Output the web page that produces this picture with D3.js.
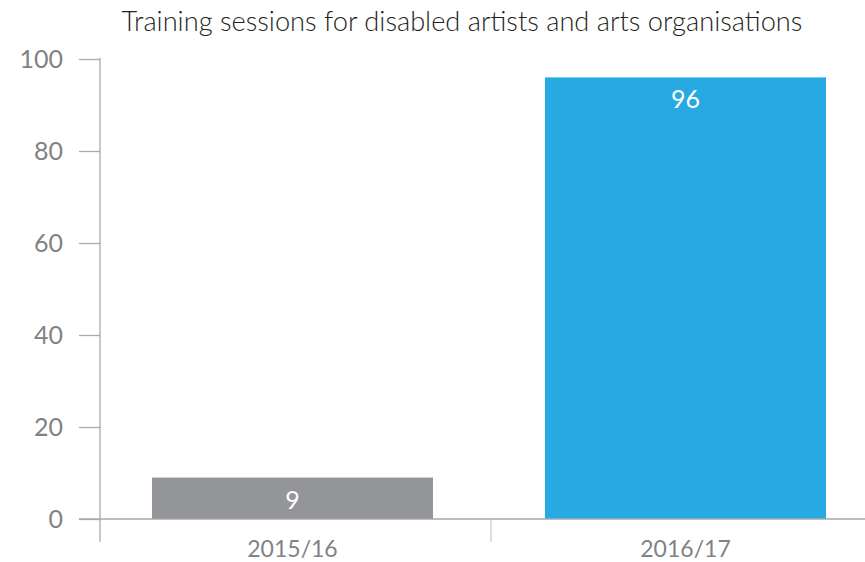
<!DOCTYPE html>
<html>
<head>
<meta charset="utf-8">
<script src="https://cdn.jsdelivr.net/npm/d3@7"></script>
<style>
  html, body { margin: 0; padding: 0; background: #fff; }
  svg { display: block; font-family: Lato, "Open Sans", sans-serif; font-weight: 400; }
</style>
</head>
<body>
<svg id="chart" width="865" height="562"></svg>
<script>
const title = "Training sessions for disabled artists and arts organisations";
const categories = ["2015/16", "2016/17"];
const values = [9, 96];
const barColors = ["#939598", "#27aae1"];
const yTicks = [0, 20, 40, 60, 80, 100];

const svg = d3.select("#chart");
const W = 865, H = 562;
const mLeft = 100, mBottom = 519, mTop = 59;

const x = d3.scaleBand().domain(categories).range([mLeft, 878]).paddingInner(0.285).paddingOuter(0.1323);
const y = d3.scaleLinear().domain([0, 100]).range([mBottom, mTop]);

// Title
const t = svg.append("text")
  .attr("x", 462).attr("y", 31)
  .attr("text-anchor", "middle")
  .attr("fill", "#231f20")
  .style("font-size", "24px")
  .style("font-weight", 300)
  .text(title);
const tw = t.node().getComputedTextLength();
t.style("font-size", (24 * 681 / tw).toFixed(2) + "px");

// Bars
svg.append("g").selectAll("rect").data(values).join("rect")
  .attr("x", (d, i) => x(categories[i]))
  .attr("width", x.bandwidth())
  .attr("y", d => y(d))
  .attr("height", d => y(0) - y(d))
  .attr("fill", (d, i) => barColors[i]);

// Value labels
svg.append("g").selectAll("text").data(values).join("text")
  .attr("x", (d, i) => x(categories[i]) + x.bandwidth() / 2)
  .attr("y", d => y(d) + 31)
  .attr("text-anchor", "middle")
  .attr("fill", "#fff")
  .style("font-size", "25px")
  .text(d => d);

// Y axis
const yAxis = d3.axisLeft(y).tickValues(yTicks).tickSize(21).tickPadding(16).tickSizeOuter(0);
const gy = svg.append("g").attr("transform", `translate(${mLeft},0)`).call(yAxis);
gy.select(".domain").remove();
gy.selectAll(".tick line").attr("stroke", "#a7a9ac").attr("stroke-width", 1.3);
gy.selectAll(".tick text").attr("fill", "#808285").style("font-size", "25px").style("font-family", "Lato, sans-serif").style("font-weight", 400);
gy.append("line").attr("x1", 0).attr("x2", 0).attr("y1", mTop - 1).attr("y2", 542)
  .attr("stroke", "#a7a9ac").attr("stroke-width", 1.3);

// X axis
const gx = svg.append("g").attr("transform", `translate(0,${mBottom})`);
gx.append("line").attr("x1", 79).attr("x2", W).attr("y1", 0).attr("y2", 0)
  .attr("stroke", "#a7a9ac").attr("stroke-width", 1.5);
// Category separator
const sepX = x(categories[1]) - (x.step() - x.bandwidth()) / 2 + 2;
gx.append("line").attr("x1", sepX).attr("x2", sepX).attr("y1", 1).attr("y2", 23)
  .attr("stroke", "#cfd0d2").attr("stroke-width", 1.5);
gx.selectAll("text.cat").data(categories).join("text")
  .attr("class", "cat")
  .attr("x", d => x(d) + x.bandwidth() / 2)
  .attr("y", 38)
  .attr("text-anchor", "middle")
  .attr("fill", "#808285")
  .style("font-size", "23px")
  .text(d => d);
</script>
</body>
</html>
